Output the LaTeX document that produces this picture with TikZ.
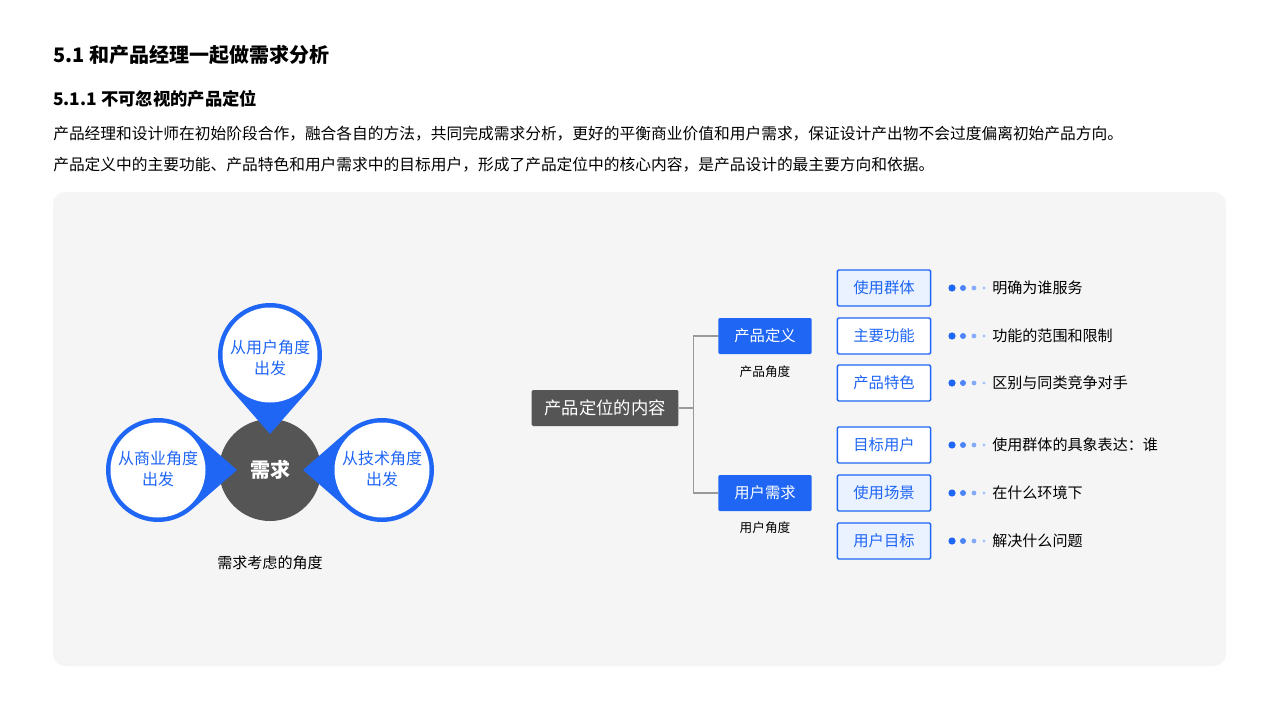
\documentclass[tikz,border=0pt]{standalone}
\usepackage{fontspec}
\setmainfont{Noto Sans CJK SC}
\newcommand\cjkb{\bfseries}
\usetikzlibrary{calc}
\begin{document}
\begin{tikzpicture}[x=0.75pt,y=-0.75pt]
\definecolor{bl}{HTML}{1F66F5}
\definecolor{lbl}{HTML}{EAF1FF}
\definecolor{dg}{HTML}{555555}
\tikzset{
  leaf/.style={draw=bl,line width=1.1pt,fill=white,minimum width=70pt,minimum height=27pt,inner sep=0,text=bl,font=\fontsize{11.5}{13}\selectfont,rounded corners=1pt},
  leafl/.style={leaf,fill=lbl},
  mid/.style={fill=bl,minimum width=70pt,minimum height=27pt,inner sep=0,text=white,font=\fontsize{11.5}{13}\selectfont,rounded corners=1pt},
  desc/.style={anchor=west,font=\fontsize{11.3}{13}\selectfont,inner sep=0},
  sub/.style={font=\fontsize{9.5}{11}\selectfont,inner sep=0},
  bub/.style={text=bl,font=\fontsize{12}{16}\selectfont,align=center},
  conn/.style={draw=gray!80,line width=0.8pt}
}
\useasboundingbox (0,0) rectangle (1280,720);
\fill[white] (0,0) rectangle (1280,720);
\node[anchor=west,inner sep=0,font=\cjkb\fontsize{15}{17}\selectfont] (t1) at (53,55) {5.1 和产品经理一起做需求分析};
\node[anchor=west,inner sep=0,font=\cjkb\fontsize{13}{15}\selectfont] (t2) at (53,99) {5.1.1 不可忽视的产品定位};
\node[anchor=west,inner sep=0,font=\fontsize{11.8}{13}\selectfont] (p1) at (53,134) {产品经理和设计师在初始阶段合作，融合各自的方法，共同完成需求分析，更好的平衡商业价值和用户需求，保证设计产出物不会过度偏离初始产品方向。};
\node[anchor=west,inner sep=0,font=\fontsize{11.8}{13}\selectfont] (p2) at (53,165) {产品定义中的主要功能、产品特色和用户需求中的目标用户，形成了产品定位中的核心内容，是产品设计的最主要方向和依据。};
\fill[black!4,rounded corners=9pt] (53,192) rectangle (1226,666);
% left diagram
\fill[dg] (270,470) circle[radius=51];
\node[text=white,font=\cjkb\fontsize{15}{17}\selectfont] (xq) at (270,470) {需求};
\foreach \cx/\cy/\ang/\nm in {270/355/90/u,158/470/0/b,382/470/180/t}{
  \fill[bl] ($(\cx,\cy)+(\ang:79)$) -- ($(\cx,\cy)+(\ang+49:52)$) arc[start angle=\ang+49,end angle=\ang+311,radius=52] -- cycle;
  \fill[white] (\cx,\cy) circle[radius=47.5];
}
\node[bub] (bu) at (270,358) {从用户角度\\出发};
\node[bub] (bb) at (158,469) {从商业角度\\出发};
\node[bub] (bt) at (382,469) {从技术角度\\出发};
\node[sub,font=\fontsize{11.3}{13}\selectfont] (cap) at (270,563) {需求考虑的角度};
% tree
\node[fill=dg,text=white,minimum width=110pt,minimum height=27pt,inner sep=0,font=\fontsize{13}{15}\selectfont,rounded corners=1pt] (root) at (605,408) {产品定位的内容};
\node[mid] (m1) at (765,336) {产品定义};
\node[mid] (m2) at (765,493) {用户需求};
\node[sub] (s1) at (765,372) {产品角度};
\node[sub] (s2) at (765,528) {用户角度};
\draw[conn] (root.east) -- ++(15,0) coordinate (j) (m1.west) -| (j) |- (m2.west);
\foreach \y/\txt/\st/\d/\i in {288/使用群体/leafl/明确为谁服务/1,336/主要功能/leaf/功能的范围和限制/2,383/产品特色/leaf/区别与同类竞争对手/3,445/目标用户/leaf/使用群体的具象表达：谁/4,493/使用场景/leafl/在什么环境下/5,541/用户目标/leafl/解决什么问题/6}{
  \node[\st] (l\i) at (884,\y) {\txt};
  \fill[bl] (952,\y) circle[radius=3.6];
  \fill[bl!80] (963,\y) circle[radius=3];
  \fill[bl!55] (974,\y) circle[radius=2.4];
  \fill[bl!40] (984,\y) circle[radius=1.6];
  \node[desc] (d\i) at (992,\y) {\d};
}
\end{tikzpicture}
\end{document}
